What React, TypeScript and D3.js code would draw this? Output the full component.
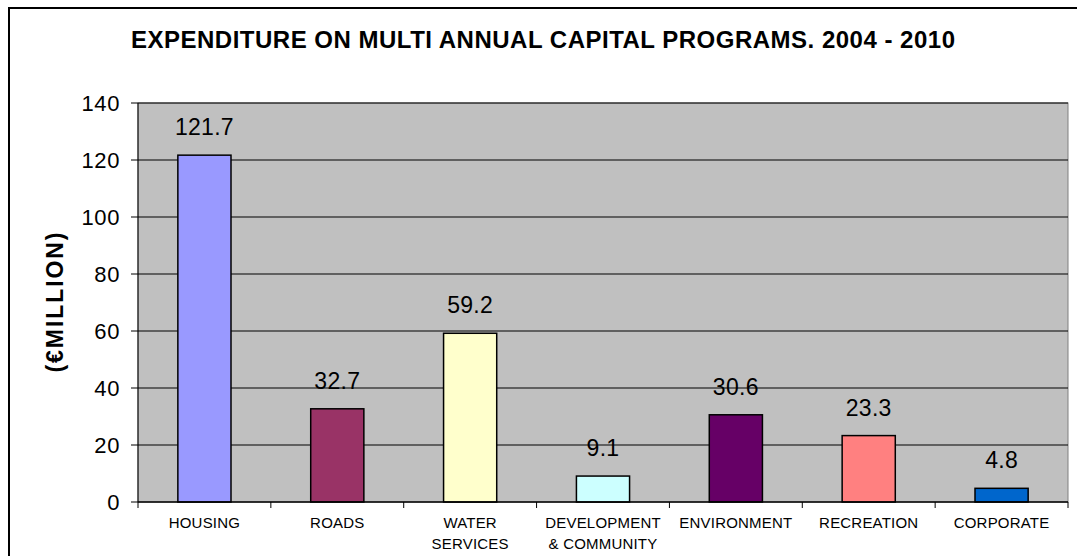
import * as React from "react";
import * as d3 from "d3";

const categories = [
  ["HOUSING"],
  ["ROADS"],
  ["WATER", "SERVICES"],
  ["DEVELOPMENT", "& COMMUNITY"],
  ["ENVIRONMENT"],
  ["RECREATION"],
  ["CORPORATE"],
];
const values = [121.7, 32.7, 59.2, 9.1, 30.6, 23.3, 4.8];
const colors = ["#9999FF", "#993366", "#FFFFCC", "#CCFFFF", "#660066", "#FF8080", "#0066CC"];
const yTicks = [0, 20, 40, 60, 80, 100, 120, 140];

export default function App() {
  const left = 138;
  const right = 1068;
  const top = 103;
  const bottom = 502;

  const x = d3
    .scaleBand<number>()
    .domain(d3.range(values.length))
    .range([left, right])
    .paddingInner(0.6)
    .paddingOuter(0.3);
  const band = (right - left) / values.length;
  const y = d3.scaleLinear().domain([0, 140]).range([bottom, top]);

  const font = "'Liberation Sans', Arial, sans-serif";

  return (
    <svg
      width={1077}
      height={556}
      style={{ position: "absolute", left: 0, top: 0, fontFamily: font }}
    >
      <rect x={0} y={0} width={1077} height={556} fill="white" />
      <rect x={9} y={8} width={1090} height={600} fill="white" stroke="black" strokeWidth={2} />
      <text x={131} y={48} fontSize={24} fontWeight="bold" textLength={824} lengthAdjust="spacing">
        EXPENDITURE ON MULTI ANNUAL CAPITAL PROGRAMS. 2004 - 2010
      </text>
      <rect x={left} y={top} width={right - left} height={bottom - top} fill="#C0C0C0" stroke="#808080" strokeWidth={1} />
      {yTicks.map((t) => (
        <g key={t}>
          {t > 0 && (
            <line x1={left} x2={right} y1={y(t)} y2={y(t)} stroke="black" strokeWidth={1} />
          )}
          <line x1={left - 7} x2={left} y1={y(t)} y2={y(t)} stroke="black" strokeWidth={1} />
          <text x={left - 18} y={y(t)} dy="0.36em" textAnchor="end" fontSize={22} letterSpacing={0.6}>
            {t}
          </text>
        </g>
      ))}
      <line x1={left} x2={left} y1={top} y2={bottom} stroke="black" strokeWidth={1} />
      {values.map((v, i) => (
        <g key={i}>
          <rect
            x={x(i)!}
            y={y(v)}
            width={x.bandwidth()}
            height={bottom - y(v)}
            fill={colors[i]}
            stroke="black"
            strokeWidth={1.5}
          />
          <text x={x(i)! + x.bandwidth() / 2} y={y(v) - 20} textAnchor="middle" fontSize={23} letterSpacing={0.3}>
            {v}
          </text>
        </g>
      ))}
      <line x1={left} x2={right} y1={bottom} y2={bottom} stroke="black" strokeWidth={1.5} />
      {d3.range(values.length + 1).map((i) => (
        <line
          key={i}
          x1={left + i * band}
          x2={left + i * band}
          y1={bottom}
          y2={bottom + 6}
          stroke="black"
          strokeWidth={1}
        />
      ))}
      {categories.map((lines, i) => (
        <text
          key={i}
          x={x(i)! + x.bandwidth() / 2}
          y={528}
          textAnchor="middle"
          fontSize={15}
          letterSpacing={0.2}
        >
          {lines.map((l, j) => (
            <tspan key={j} x={x(i)! + x.bandwidth() / 2} dy={j === 0 ? 0 : 21}>
              {l}
            </tspan>
          ))}
        </text>
      ))}
      <text
        transform={`translate(63, ${(top + bottom) / 2}) rotate(-90)`}
        x={-70}
        fontSize={23}
        fontWeight="bold"
        textLength={140}
        lengthAdjust="spacing"
      >
        (€MILLION)
      </text>
    </svg>
  );
}
